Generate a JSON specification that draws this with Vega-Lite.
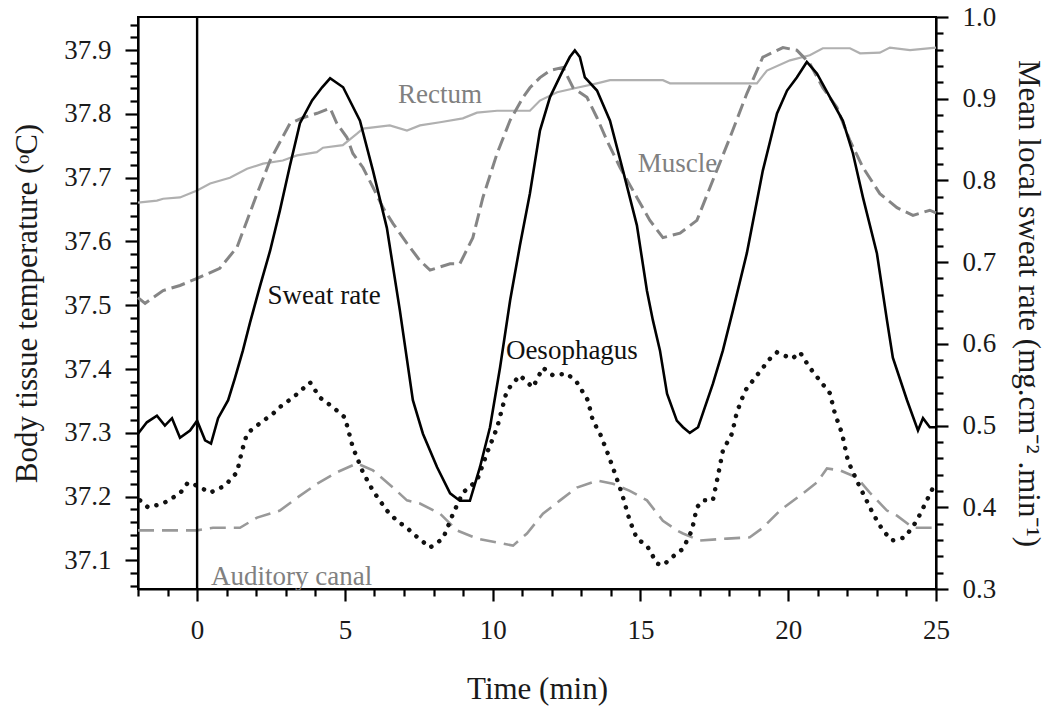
{
  "$schema": "https://vega.github.io/schema/vega-lite/v6.json",
  "width": 798,
  "height": 572,
  "autosize": {"type": "none"},
  "padding": {"left": 138, "top": 17, "right": 124, "bottom": 124},
  "background": "white",
  "config": {
    "view": {"stroke": "black", "strokeWidth": 2},
    "font": "Liberation Serif",
    "axis": {
      "grid": false,
      "domainColor": "black",
      "domainWidth": 2.2,
      "tickColor": "black",
      "tickWidth": 2.2,
      "labelFont": "Liberation Serif",
      "labelFontSize": 27,
      "labelColor": "#1a1a1a",
      "labelOverlap": false,
      "labelFlush": false,
      "titleFont": "Liberation Serif",
      "titleFontSize": 31,
      "titleFontWeight": "normal",
      "titleColor": "#1a1a1a"
    }
  },
  "datasets": {
    "temps": [
      {"series": "Rectum", "t": -2.0, "temp": 37.661},
      {"series": "Rectum", "t": -1.36, "temp": 37.664},
      {"series": "Rectum", "t": -1.15, "temp": 37.667},
      {"series": "Rectum", "t": -0.58, "temp": 37.669},
      {"series": "Rectum", "t": 0.0, "temp": 37.68},
      {"series": "Rectum", "t": 0.44, "temp": 37.691},
      {"series": "Rectum", "t": 1.11, "temp": 37.7},
      {"series": "Rectum", "t": 1.69, "temp": 37.714},
      {"series": "Rectum", "t": 2.23, "temp": 37.722},
      {"series": "Rectum", "t": 2.9, "temp": 37.727},
      {"series": "Rectum", "t": 3.38, "temp": 37.735},
      {"series": "Rectum", "t": 4.05, "temp": 37.74},
      {"series": "Rectum", "t": 4.26, "temp": 37.747},
      {"series": "Rectum", "t": 4.93, "temp": 37.751},
      {"series": "Rectum", "t": 5.41, "temp": 37.769},
      {"series": "Rectum", "t": 5.61, "temp": 37.777},
      {"series": "Rectum", "t": 6.52, "temp": 37.782},
      {"series": "Rectum", "t": 7.1, "temp": 37.774},
      {"series": "Rectum", "t": 7.54, "temp": 37.782},
      {"series": "Rectum", "t": 8.22, "temp": 37.787},
      {"series": "Rectum", "t": 8.99, "temp": 37.793},
      {"series": "Rectum", "t": 9.47, "temp": 37.802},
      {"series": "Rectum", "t": 10.15, "temp": 37.805},
      {"series": "Rectum", "t": 11.26, "temp": 37.805},
      {"series": "Rectum", "t": 11.6, "temp": 37.821},
      {"series": "Rectum", "t": 12.18, "temp": 37.834},
      {"series": "Rectum", "t": 12.85, "temp": 37.841},
      {"series": "Rectum", "t": 13.53, "temp": 37.848},
      {"series": "Rectum", "t": 13.97, "temp": 37.853},
      {"series": "Rectum", "t": 15.76, "temp": 37.853},
      {"series": "Rectum", "t": 16.0, "temp": 37.848},
      {"series": "Rectum", "t": 18.94, "temp": 37.848},
      {"series": "Rectum", "t": 19.28, "temp": 37.868},
      {"series": "Rectum", "t": 20.06, "temp": 37.884},
      {"series": "Rectum", "t": 20.73, "temp": 37.892},
      {"series": "Rectum", "t": 21.17, "temp": 37.903},
      {"series": "Rectum", "t": 22.09, "temp": 37.903},
      {"series": "Rectum", "t": 22.43, "temp": 37.895},
      {"series": "Rectum", "t": 23.1, "temp": 37.896},
      {"series": "Rectum", "t": 23.44, "temp": 37.904},
      {"series": "Rectum", "t": 24.12, "temp": 37.9},
      {"series": "Rectum", "t": 25.0, "temp": 37.904},

      {"series": "Auditory canal", "t": -2.0, "temp": 37.147},
      {"series": "Auditory canal", "t": 0.0, "temp": 37.147},
      {"series": "Auditory canal", "t": 0.54, "temp": 37.151},
      {"series": "Auditory canal", "t": 1.45, "temp": 37.151},
      {"series": "Auditory canal", "t": 2.03, "temp": 37.167},
      {"series": "Auditory canal", "t": 2.8, "temp": 37.178},
      {"series": "Auditory canal", "t": 3.38, "temp": 37.198},
      {"series": "Auditory canal", "t": 4.06, "temp": 37.22},
      {"series": "Auditory canal", "t": 4.73, "temp": 37.238},
      {"series": "Auditory canal", "t": 5.41, "temp": 37.252},
      {"series": "Auditory canal", "t": 5.95, "temp": 37.241},
      {"series": "Auditory canal", "t": 6.63, "temp": 37.214},
      {"series": "Auditory canal", "t": 7.1, "temp": 37.194},
      {"series": "Auditory canal", "t": 7.54, "temp": 37.189},
      {"series": "Auditory canal", "t": 8.22, "temp": 37.173},
      {"series": "Auditory canal", "t": 8.79, "temp": 37.147},
      {"series": "Auditory canal", "t": 9.47, "temp": 37.134},
      {"series": "Auditory canal", "t": 10.69, "temp": 37.123},
      {"series": "Auditory canal", "t": 11.16, "temp": 37.142},
      {"series": "Auditory canal", "t": 11.7, "temp": 37.173},
      {"series": "Auditory canal", "t": 12.28, "temp": 37.194},
      {"series": "Auditory canal", "t": 12.85, "temp": 37.214},
      {"series": "Auditory canal", "t": 13.53, "temp": 37.225},
      {"series": "Auditory canal", "t": 14.07, "temp": 37.22},
      {"series": "Auditory canal", "t": 14.64, "temp": 37.209},
      {"series": "Auditory canal", "t": 15.22, "temp": 37.194},
      {"series": "Auditory canal", "t": 15.76, "temp": 37.162},
      {"series": "Auditory canal", "t": 16.23, "temp": 37.147},
      {"series": "Auditory canal", "t": 16.44, "temp": 37.142},
      {"series": "Auditory canal", "t": 17.01, "temp": 37.131},
      {"series": "Auditory canal", "t": 17.93, "temp": 37.134},
      {"series": "Auditory canal", "t": 18.7, "temp": 37.136},
      {"series": "Auditory canal", "t": 19.14, "temp": 37.151},
      {"series": "Auditory canal", "t": 19.72, "temp": 37.178},
      {"series": "Auditory canal", "t": 20.5, "temp": 37.205},
      {"series": "Auditory canal", "t": 20.97, "temp": 37.222},
      {"series": "Auditory canal", "t": 21.31, "temp": 37.244},
      {"series": "Auditory canal", "t": 21.75, "temp": 37.241},
      {"series": "Auditory canal", "t": 22.32, "temp": 37.23},
      {"series": "Auditory canal", "t": 22.76, "temp": 37.206},
      {"series": "Auditory canal", "t": 23.34, "temp": 37.178},
      {"series": "Auditory canal", "t": 23.68, "temp": 37.17},
      {"series": "Auditory canal", "t": 24.22, "temp": 37.151},
      {"series": "Auditory canal", "t": 25.0, "temp": 37.151},

      {"series": "Muscle", "t": -2.0, "temp": 37.512},
      {"series": "Muscle", "t": -1.76, "temp": 37.503},
      {"series": "Muscle", "t": -1.15, "temp": 37.523},
      {"series": "Muscle", "t": -0.58, "temp": 37.531},
      {"series": "Muscle", "t": 0.0, "temp": 37.542},
      {"series": "Muscle", "t": 0.77, "temp": 37.558},
      {"series": "Muscle", "t": 1.35, "temp": 37.591},
      {"series": "Muscle", "t": 1.69, "temp": 37.633},
      {"series": "Muscle", "t": 2.03, "temp": 37.675},
      {"series": "Muscle", "t": 2.47, "temp": 37.727},
      {"series": "Muscle", "t": 2.7, "temp": 37.747},
      {"series": "Muscle", "t": 3.14, "temp": 37.785},
      {"series": "Muscle", "t": 3.58, "temp": 37.794},
      {"series": "Muscle", "t": 4.06, "temp": 37.801},
      {"series": "Muscle", "t": 4.5, "temp": 37.809},
      {"series": "Muscle", "t": 4.73, "temp": 37.785},
      {"series": "Muscle", "t": 5.07, "temp": 37.763},
      {"series": "Muscle", "t": 5.27, "temp": 37.738},
      {"series": "Muscle", "t": 5.61, "temp": 37.716},
      {"series": "Muscle", "t": 5.95, "temp": 37.685},
      {"series": "Muscle", "t": 6.29, "temp": 37.653},
      {"series": "Muscle", "t": 6.63, "temp": 37.628},
      {"series": "Muscle", "t": 7.1, "temp": 37.597},
      {"series": "Muscle", "t": 7.54, "temp": 37.57},
      {"series": "Muscle", "t": 7.88, "temp": 37.555},
      {"series": "Muscle", "t": 8.56, "temp": 37.565},
      {"series": "Muscle", "t": 8.89, "temp": 37.565},
      {"series": "Muscle", "t": 9.33, "temp": 37.606},
      {"series": "Muscle", "t": 9.67, "temp": 37.669},
      {"series": "Muscle", "t": 10.15, "temp": 37.738},
      {"series": "Muscle", "t": 10.59, "temp": 37.79},
      {"series": "Muscle", "t": 11.03, "temp": 37.826},
      {"series": "Muscle", "t": 11.26, "temp": 37.841},
      {"series": "Muscle", "t": 11.6, "temp": 37.857},
      {"series": "Muscle", "t": 11.94, "temp": 37.868},
      {"series": "Muscle", "t": 12.38, "temp": 37.873},
      {"series": "Muscle", "t": 12.72, "temp": 37.841},
      {"series": "Muscle", "t": 13.19, "temp": 37.826},
      {"series": "Muscle", "t": 13.53, "temp": 37.794},
      {"series": "Muscle", "t": 13.87, "temp": 37.758},
      {"series": "Muscle", "t": 14.31, "temp": 37.716},
      {"series": "Muscle", "t": 14.88, "temp": 37.669},
      {"series": "Muscle", "t": 15.32, "temp": 37.633},
      {"series": "Muscle", "t": 15.76, "temp": 37.606},
      {"series": "Muscle", "t": 16.34, "temp": 37.613},
      {"series": "Muscle", "t": 16.91, "temp": 37.633},
      {"series": "Muscle", "t": 17.45, "temp": 37.696},
      {"series": "Muscle", "t": 18.03, "temp": 37.763},
      {"series": "Muscle", "t": 18.6, "temp": 37.832},
      {"series": "Muscle", "t": 19.14, "temp": 37.889},
      {"series": "Muscle", "t": 19.82, "temp": 37.904},
      {"series": "Muscle", "t": 20.29, "temp": 37.9},
      {"series": "Muscle", "t": 20.73, "temp": 37.879},
      {"series": "Muscle", "t": 21.17, "temp": 37.841},
      {"series": "Muscle", "t": 21.65, "temp": 37.81},
      {"series": "Muscle", "t": 22.09, "temp": 37.758},
      {"series": "Muscle", "t": 22.53, "temp": 37.716},
      {"series": "Muscle", "t": 23.1, "temp": 37.675},
      {"series": "Muscle", "t": 23.68, "temp": 37.653},
      {"series": "Muscle", "t": 24.22, "temp": 37.641},
      {"series": "Muscle", "t": 24.79, "temp": 37.649},
      {"series": "Muscle", "t": 25.0, "temp": 37.645},

      {"series": "Oesophagus", "t": -1.93, "temp": 37.194},
      {"series": "Oesophagus", "t": -1.66, "temp": 37.183},
      {"series": "Oesophagus", "t": -1.15, "temp": 37.189},
      {"series": "Oesophagus", "t": -0.58, "temp": 37.205},
      {"series": "Oesophagus", "t": -0.31, "temp": 37.222},
      {"series": "Oesophagus", "t": 0.0, "temp": 37.217},
      {"series": "Oesophagus", "t": 0.44, "temp": 37.206},
      {"series": "Oesophagus", "t": 0.94, "temp": 37.217},
      {"series": "Oesophagus", "t": 1.35, "temp": 37.238},
      {"series": "Oesophagus", "t": 1.52, "temp": 37.272},
      {"series": "Oesophagus", "t": 1.69, "temp": 37.299},
      {"series": "Oesophagus", "t": 2.13, "temp": 37.315},
      {"series": "Oesophagus", "t": 2.57, "temp": 37.33},
      {"series": "Oesophagus", "t": 2.87, "temp": 37.343},
      {"series": "Oesophagus", "t": 3.24, "temp": 37.355},
      {"series": "Oesophagus", "t": 3.82, "temp": 37.379},
      {"series": "Oesophagus", "t": 4.16, "temp": 37.355},
      {"series": "Oesophagus", "t": 4.6, "temp": 37.34},
      {"series": "Oesophagus", "t": 5.0, "temp": 37.324},
      {"series": "Oesophagus", "t": 5.27, "temp": 37.277},
      {"series": "Oesophagus", "t": 5.61, "temp": 37.238},
      {"series": "Oesophagus", "t": 5.95, "temp": 37.209},
      {"series": "Oesophagus", "t": 6.42, "temp": 37.178},
      {"series": "Oesophagus", "t": 6.76, "temp": 37.162},
      {"series": "Oesophagus", "t": 7.1, "temp": 37.151},
      {"series": "Oesophagus", "t": 7.3, "temp": 37.142},
      {"series": "Oesophagus", "t": 7.88, "temp": 37.12},
      {"series": "Oesophagus", "t": 8.32, "temp": 37.134},
      {"series": "Oesophagus", "t": 8.66, "temp": 37.173},
      {"series": "Oesophagus", "t": 8.99, "temp": 37.206},
      {"series": "Oesophagus", "t": 9.47, "temp": 37.225},
      {"series": "Oesophagus", "t": 9.84, "temp": 37.272},
      {"series": "Oesophagus", "t": 10.15, "temp": 37.308},
      {"series": "Oesophagus", "t": 10.48, "temp": 37.366},
      {"series": "Oesophagus", "t": 10.92, "temp": 37.39},
      {"series": "Oesophagus", "t": 11.36, "temp": 37.371},
      {"series": "Oesophagus", "t": 11.7, "temp": 37.402},
      {"series": "Oesophagus", "t": 12.04, "temp": 37.39},
      {"series": "Oesophagus", "t": 12.51, "temp": 37.393},
      {"series": "Oesophagus", "t": 12.85, "temp": 37.379},
      {"series": "Oesophagus", "t": 13.22, "temp": 37.351},
      {"series": "Oesophagus", "t": 13.39, "temp": 37.319},
      {"series": "Oesophagus", "t": 13.63, "temp": 37.299},
      {"series": "Oesophagus", "t": 13.9, "temp": 37.267},
      {"series": "Oesophagus", "t": 14.14, "temp": 37.236},
      {"series": "Oesophagus", "t": 14.37, "temp": 37.205},
      {"series": "Oesophagus", "t": 14.64, "temp": 37.162},
      {"series": "Oesophagus", "t": 14.88, "temp": 37.134},
      {"series": "Oesophagus", "t": 15.22, "temp": 37.123},
      {"series": "Oesophagus", "t": 15.56, "temp": 37.095},
      {"series": "Oesophagus", "t": 15.76, "temp": 37.092},
      {"series": "Oesophagus", "t": 16.23, "temp": 37.111},
      {"series": "Oesophagus", "t": 16.44, "temp": 37.118},
      {"series": "Oesophagus", "t": 16.74, "temp": 37.147},
      {"series": "Oesophagus", "t": 16.91, "temp": 37.183},
      {"series": "Oesophagus", "t": 17.11, "temp": 37.194},
      {"series": "Oesophagus", "t": 17.45, "temp": 37.194},
      {"series": "Oesophagus", "t": 17.59, "temp": 37.225},
      {"series": "Oesophagus", "t": 17.79, "temp": 37.272},
      {"series": "Oesophagus", "t": 18.1, "temp": 37.299},
      {"series": "Oesophagus", "t": 18.26, "temp": 37.332},
      {"series": "Oesophagus", "t": 18.54, "temp": 37.366},
      {"series": "Oesophagus", "t": 18.94, "temp": 37.39},
      {"series": "Oesophagus", "t": 19.38, "temp": 37.416},
      {"series": "Oesophagus", "t": 19.62, "temp": 37.426},
      {"series": "Oesophagus", "t": 20.13, "temp": 37.416},
      {"series": "Oesophagus", "t": 20.4, "temp": 37.426},
      {"series": "Oesophagus", "t": 20.73, "temp": 37.402},
      {"series": "Oesophagus", "t": 21.07, "temp": 37.382},
      {"series": "Oesophagus", "t": 21.41, "temp": 37.362},
      {"series": "Oesophagus", "t": 21.58, "temp": 37.33},
      {"series": "Oesophagus", "t": 21.82, "temp": 37.299},
      {"series": "Oesophagus", "t": 22.02, "temp": 37.256},
      {"series": "Oesophagus", "t": 22.32, "temp": 37.225},
      {"series": "Oesophagus", "t": 22.53, "temp": 37.205},
      {"series": "Oesophagus", "t": 22.87, "temp": 37.173},
      {"series": "Oesophagus", "t": 23.2, "temp": 37.147},
      {"series": "Oesophagus", "t": 23.51, "temp": 37.131},
      {"series": "Oesophagus", "t": 23.95, "temp": 37.136},
      {"series": "Oesophagus", "t": 24.35, "temp": 37.162},
      {"series": "Oesophagus", "t": 24.69, "temp": 37.194},
      {"series": "Oesophagus", "t": 24.89, "temp": 37.213}
    ],
    "sweat": [
      {"t": -2.0, "rate": 0.49}, {"t": -1.7, "rate": 0.504}, {"t": -1.36, "rate": 0.512},
      {"t": -1.09, "rate": 0.5}, {"t": -0.85, "rate": 0.509}, {"t": -0.58, "rate": 0.485},
      {"t": -0.24, "rate": 0.494}, {"t": 0.0, "rate": 0.506}, {"t": 0.27, "rate": 0.482},
      {"t": 0.47, "rate": 0.478}, {"t": 0.71, "rate": 0.509}, {"t": 1.05, "rate": 0.531},
      {"t": 1.28, "rate": 0.558}, {"t": 1.55, "rate": 0.592}, {"t": 1.79, "rate": 0.626},
      {"t": 2.13, "rate": 0.671}, {"t": 2.47, "rate": 0.714}, {"t": 2.8, "rate": 0.763},
      {"t": 3.14, "rate": 0.818}, {"t": 3.48, "rate": 0.87}, {"t": 3.89, "rate": 0.898},
      {"t": 4.23, "rate": 0.914}, {"t": 4.5, "rate": 0.925}, {"t": 4.94, "rate": 0.914},
      {"t": 5.51, "rate": 0.873}, {"t": 5.95, "rate": 0.812}, {"t": 6.42, "rate": 0.742},
      {"t": 6.86, "rate": 0.641}, {"t": 7.3, "rate": 0.531}, {"t": 7.64, "rate": 0.49},
      {"t": 8.12, "rate": 0.449}, {"t": 8.56, "rate": 0.417}, {"t": 8.89, "rate": 0.408},
      {"t": 9.23, "rate": 0.408}, {"t": 9.57, "rate": 0.449}, {"t": 9.91, "rate": 0.498},
      {"t": 10.25, "rate": 0.571}, {"t": 10.59, "rate": 0.653}, {"t": 10.92, "rate": 0.72},
      {"t": 11.26, "rate": 0.784}, {"t": 11.6, "rate": 0.861}, {"t": 11.94, "rate": 0.902},
      {"t": 12.38, "rate": 0.935}, {"t": 12.61, "rate": 0.951}, {"t": 12.78, "rate": 0.959},
      {"t": 12.95, "rate": 0.951}, {"t": 13.12, "rate": 0.926}, {"t": 13.53, "rate": 0.91},
      {"t": 13.97, "rate": 0.873}, {"t": 14.41, "rate": 0.812}, {"t": 14.88, "rate": 0.745},
      {"t": 15.22, "rate": 0.665}, {"t": 15.42, "rate": 0.629}, {"t": 15.66, "rate": 0.592},
      {"t": 15.9, "rate": 0.539}, {"t": 16.23, "rate": 0.506}, {"t": 16.44, "rate": 0.498},
      {"t": 16.67, "rate": 0.491}, {"t": 16.95, "rate": 0.498}, {"t": 17.11, "rate": 0.515},
      {"t": 17.45, "rate": 0.551}, {"t": 17.79, "rate": 0.592}, {"t": 18.13, "rate": 0.641},
      {"t": 18.6, "rate": 0.711}, {"t": 19.14, "rate": 0.812}, {"t": 19.62, "rate": 0.882},
      {"t": 19.96, "rate": 0.91}, {"t": 20.29, "rate": 0.926}, {"t": 20.63, "rate": 0.945},
      {"t": 20.97, "rate": 0.931}, {"t": 21.41, "rate": 0.902}, {"t": 21.85, "rate": 0.873},
      {"t": 22.19, "rate": 0.833}, {"t": 22.53, "rate": 0.779}, {"t": 23.0, "rate": 0.711},
      {"t": 23.34, "rate": 0.629}, {"t": 23.54, "rate": 0.583}, {"t": 24.02, "rate": 0.531},
      {"t": 24.39, "rate": 0.494}, {"t": 24.56, "rate": 0.509}, {"t": 24.79, "rate": 0.498},
      {"t": 25.0, "rate": 0.498}
    ],
    "labels": [
      {"label": "Rectum", "t": 8.22, "temp": 37.829, "tone": "gray"},
      {"label": "Muscle", "t": 16.25, "temp": 37.722, "tone": "gray"},
      {"label": "Sweat rate", "t": 4.3, "temp": 37.514, "tone": "black"},
      {"label": "Oesophagus", "t": 12.68, "temp": 37.429, "tone": "black"},
      {"label": "Auditory canal", "t": 3.2, "temp": 37.074, "tone": "gray"}
    ]
  },
  "layer": [
    {
      "encoding": {
        "x": {
          "field": "t", "type": "quantitative",
          "scale": {"domain": [-2, 25], "nice": false, "zero": false},
          "axis": {
            "orient": "bottom",
            "title": "Time (min)",
            "values": [0, 5, 10, 15, 20, 25],
            "format": "d",
            "tickSize": 12,
            "labelPadding": 16,
            "titlePadding": 31
          }
        }
      },
      "layer": [
        {
          "data": {"name": "temps"},
          "transform": [{"filter": "datum.series === 'Rectum'"}],
          "mark": {"type": "line", "color": "#b0b0b0", "strokeWidth": 2.2},
          "encoding": {
            "y": {
              "field": "temp", "type": "quantitative",
              "scale": {"domain": [37.055, 37.952], "nice": false, "zero": false},
              "axis": {
                "orient": "left",
                "title": "Body tissue temperature (\u1d52C)",
                "values": [37.1, 37.2, 37.3, 37.4, 37.5, 37.6, 37.7, 37.8, 37.9],
                "format": ".1f",
                "tickSize": 13,
                "labelPadding": 14,
                "titlePadding": 20
              }
            }
          }
        },
        {
          "data": {"name": "temps"},
          "transform": [{"filter": "datum.series === 'Auditory canal'"}],
          "mark": {"type": "line", "color": "#999999", "strokeWidth": 2.6, "strokeDash": [16, 8]},
          "encoding": {"y": {"field": "temp", "type": "quantitative", "axis": null}}
        },
        {
          "data": {"name": "temps"},
          "transform": [{"filter": "datum.series === 'Muscle'"}],
          "mark": {"type": "line", "color": "#858585", "strokeWidth": 3, "strokeDash": [14, 6]},
          "encoding": {"y": {"field": "temp", "type": "quantitative", "axis": null}}
        },
        {
          "data": {"name": "temps"},
          "transform": [{"filter": "datum.series === 'Oesophagus'"}],
          "mark": {"type": "line", "color": "#111111", "strokeWidth": 4.5, "strokeDash": [0.1, 9.5], "strokeCap": "round"},
          "encoding": {
            "y": {
              "field": "temp", "type": "quantitative",
              "axis": {
                "orient": "left",
                "title": null,
                "labels": false,
                "domain": false,
                "values": [37.06,37.08,37.12,37.14,37.16,37.18,37.22,37.24,37.26,37.28,37.32,37.34,37.36,37.38,37.42,37.44,37.46,37.48,37.52,37.54,37.56,37.58,37.62,37.64,37.66,37.68,37.72,37.74,37.76,37.78,37.82,37.84,37.86,37.88,37.92,37.94],
                "tickSize": 8
              }
            }
          }
        },
        {
          "data": {"name": "labels"},
          "mark": {"type": "text", "font": "Liberation Serif", "fontSize": 27, "align": "center", "baseline": "middle"},
          "encoding": {
            "y": {"field": "temp", "type": "quantitative", "axis": null},
            "text": {"field": "label"},
            "color": {"field": "tone", "type": "nominal", "scale": {"domain": ["gray", "black"], "range": ["#808080", "#111111"]}, "legend": null}
          }
        }
      ],
      "resolve": {"axis": {"y": "independent"}}
    },
    {
      "data": {"name": "sweat"},
      "encoding": {
        "x": {
          "field": "t", "type": "quantitative",
          "axis": {
            "orient": "bottom",
            "title": null,
            "labels": false,
            "domain": false,
            "values": [-2, -1, 1, 2, 3, 4, 6, 7, 8, 9, 11, 12, 13, 14, 16, 17, 18, 19, 21, 22, 23, 24],
            "tickSize": 7
          }
        }
      },
      "layer": [
        {
          "mark": {"type": "line", "color": "#000000", "strokeWidth": 2.6},
          "encoding": {
            "y": {
              "field": "rate", "type": "quantitative",
              "scale": {"domain": [0.3, 1.0], "nice": false, "zero": false},
              "axis": {
                "orient": "right",
                "title": "Mean local sweat rate (mg.cm\u207b\u00b2 .min\u207b\u00b9)",
                "values": [0.3, 0.4, 0.5, 0.6, 0.7, 0.8, 0.9, 1.0],
                "format": ".1f",
                "tickSize": 12,
                "labelPadding": 14,
                "titlePadding": 16
              }
            }
          }
        },
        {
          "mark": {"type": "line", "strokeOpacity": 0},
          "encoding": {
            "y": {
              "field": "rate", "type": "quantitative",
              "axis": {
                "orient": "right",
                "title": null,
                "labels": false,
                "domain": false,
                "values": [0.32,0.34,0.36,0.38,0.42,0.44,0.46,0.48,0.52,0.54,0.56,0.58,0.62,0.64,0.66,0.68,0.72,0.74,0.76,0.78,0.82,0.84,0.86,0.88,0.92,0.94,0.96,0.98],
                "tickSize": 7
              }
            }
          }
        }
      ],
      "resolve": {"axis": {"y": "independent"}}
    },
    {
      "data": {"values": [{"t": 0}]},
      "mark": {"type": "rule", "color": "#000000", "strokeWidth": 2.4},
      "encoding": {"x": {"field": "t", "type": "quantitative", "axis": null}}
    }
  ],
  "resolve": {"scale": {"y": "independent"}, "axis": {"x": "independent"}}
}
